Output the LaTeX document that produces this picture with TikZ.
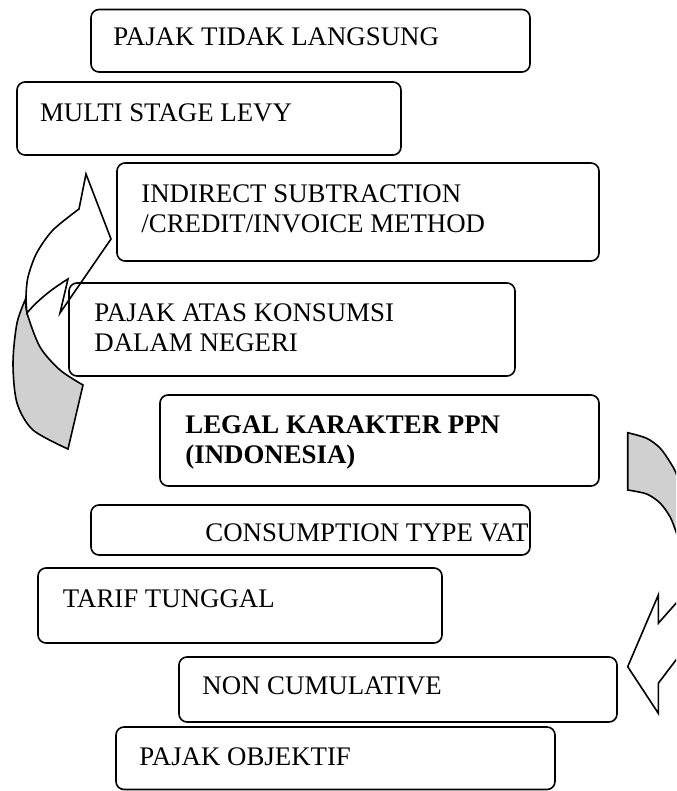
\documentclass[tikz,border=0pt]{standalone}
\usepackage{fontspec}
\setmainfont{Liberation Serif}
\usepackage{tikz}
\usepackage{xcolor}
\definecolor{backgray}{RGB}{208,208,208}

\begin{document}
\begin{tikzpicture}[x=0.5pt, y=-0.5pt,
	box/.style={draw, line width=0.8pt, rounded corners=4pt},
	lbl/.style={anchor=base west, inner sep=0pt, align=left, font=\fontsize{13.42pt}{15pt}\selectfont},
	boldlbl/.style={lbl, font=\fontsize{13.42pt}{15pt}\selectfont\bfseries},
	band/.style={draw, line width=0.8pt, line join=miter}]
	\useasboundingbox (0,0) rectangle (676,791);

%	left curved arrow
	\filldraw[band, fill=backgray] (26,298) -- plot[smooth] coordinates {(26,298) (17,323) (13,363) (17,403) (33,430) (68,449)} -- (83,385) -- plot[smooth] coordinates {(83,385) (60,370) (40,347) (27,313) (26,298)} -- cycle;
	\filldraw[band, fill=white] (79,209) -- (86,174) -- (111,239) -- (60,313) -- (68,279) .. controls (50,290) and (36,302) .. (27,313) -- plot[smooth] coordinates {(27,313) (26,297) (28,277) (36.7,253) (53,230) (79,209)} -- cycle;

%	right curved arrow
	\begin{scope}
	\clip (0,0) rectangle (676,791);
	\filldraw[band, fill=backgray] (627.7,432.7) -- plot[smooth] coordinates {(627.7,432.7) (646.7,438.3) (660,448) (670,462) (676,473) (684,495)} -- (692,560) -- plot[smooth] coordinates {(684,555) (676,531.7) (670,516.7) (660,503) (646.7,494) (627.7,490)} -- cycle;
	\filldraw[band, fill=white] (692,586) -- plot[smooth] coordinates {(692,586) (676,603.3) (658.3,623.3)} -- (658.3,595) -- (627.7,666.7) -- (658.3,713.3) -- (658.3,683.3) -- plot[smooth] coordinates {(658.3,683.3) (676,660) (692,640)} -- cycle;
	\end{scope}

%	boxes
	\draw[box] (91,9.5) rectangle (530,72);
	\draw[box] (17,82) rectangle (401,155);
	\draw[box] (117,163) rectangle (599,261);
	\draw[box] (69,283) rectangle (515,376);
	\draw[box] (160,395) rectangle (599,486);
	\draw[box] (91,505) rectangle (530,555);
	\draw[box] (38,568) rectangle (442,643);
	\draw[box] (179,657) rectangle (617,722);
	\draw[box] (116,727) rectangle (555,789.5);

%	base of a two line label sits on its last line
	\node[lbl] (tidak) at (113,45.5) {PAJAK TIDAK LANGSUNG};
	\node[lbl] (multi) at (39.7,121.7) {MULTI STAGE LEVY};
	\node[lbl] (indirect) at (141,232.7) {INDIRECT SUBTRACTION\\/CREDIT/INVOICE METHOD};
	\node[lbl] (konsumsi) at (94,351.7) {PAJAK ATAS KONSUMSI\\DALAM NEGERI};
	\node[boldlbl] (legal) at (185,463) {LEGAL KARAKTER PPN\\(INDONESIA)};
	\node[lbl] (vat) at (205,541) {CONSUMPTION TYPE VAT};
	\node[lbl] (tarif) at (62.5,607) {TARIF TUNGGAL};
	\node[lbl] (noncum) at (202,694) {NON CUMULATIVE};
	\node[lbl] (objektif) at (139,765) {PAJAK OBJEKTIF};

\end{tikzpicture}
\end{document}
